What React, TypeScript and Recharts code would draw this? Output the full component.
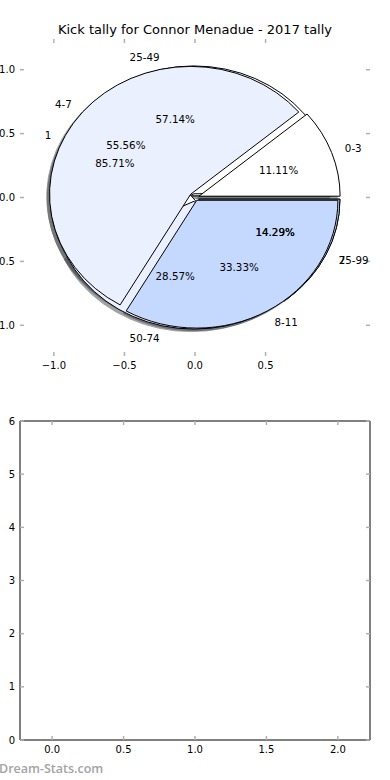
import React from 'react';
import { PieChart, Pie, Cell, ScatterChart, Scatter, XAxis, YAxis } from 'recharts';

const TITLE = 'Kick tally for Connor Menadue - 2017 tally';

// three pies stacked on the same axes, like the original
const kickCats = ['0-3', '4-7', '8-11'];
const kickValues = [1, 5, 3];
const pctCats = ['25-49', '50-74', '75-99'];
const pctValues = [4, 2, 1];
const goalCats = ['1', '2'];
const goalValues = [6, 1];

const pieXTicks = [-1, -0.5, 0, 0.5];
const pieYTicks = [-1, -0.5, 0, 0.5, 1];
const emptyXTicks = [0, 0.5, 1, 1.5, 2];
const emptyYTicks = [0, 1, 2, 3, 4, 5, 6];

const kickData = kickCats.map((name, i) => ({ name, value: kickValues[i] }));
const pctData = pctCats.map((name, i) => ({ name, value: pctValues[i] }));
const goalData = goalCats.map((name, i) => ({ name, value: goalValues[i] }));

const FONT = '"DejaVu Sans", sans-serif';
const SLICE_COLORS = ['#ffffff', '#eaf0fe', '#c5d8fd'];
const SHADOW_COLORS = ['#4d4d4d', '#46484c', '#3b414c'];
const TICK_GREY = '#b0b0b0';

const explodeA: Record<string, number> = { '0-3': 0.03, '4-7': 0.04, '8-11': 0.025 };
const explodeB: Record<string, number> = { '25-49': 0.03, '50-74': 0.03, '75-99': 0.03 };
const explodeC: Record<string, number> = { '1': 0.03, '2': 0.03 };

// top axes box (pixels) and data limits
const LIM = 1.24;
const PL = 20, PR = 370, PT = 39, PB = 356;
const R = (PR - PL) / 2 / LIM;
const K = (PB - PT) / (PR - PL); // axes aren't square, so the pie is squashed
const CX = (PL + PR) / 2;
const CY = (PT + PB) / 2;
const RAD = Math.PI / 180;

const fmt1 = (v: number) => v.toFixed(1).replace('-', '\u2212');
const fmt0 = (v: number) => String(v);

function wedgePath(cx: number, cy: number, r: number, a0: number, a1: number) {
  const x0 = cx + r * Math.cos(a0 * RAD);
  const y0 = cy - r * K * Math.sin(a0 * RAD);
  const x1 = cx + r * Math.cos(a1 * RAD);
  const y1 = cy - r * K * Math.sin(a1 * RAD);
  const large = Math.abs(a1 - a0) > 180 ? 1 : 0;
  return `M${cx},${cy}L${x0},${y0}A${r},${r * K} 0 ${large} 0 ${x1},${y1}Z`;
}

const sliceShape = (explode: Record<string, number>, shadow: boolean) => (p: any) => {
  const name = p.name ?? p.payload?.name;
  const e = explode[name] ?? 0;
  const mid = (p.startAngle + p.endAngle) / 2;
  let cx = p.cx + e * p.outerRadius * Math.cos(mid * RAD);
  let cy = p.cy - e * p.outerRadius * K * Math.sin(mid * RAD);
  if (shadow) {
    cx -= 0.02 * p.outerRadius;
    cy += 0.02 * p.outerRadius * K;
  }
  return (
    <path
      d={wedgePath(cx, cy, p.outerRadius, p.startAngle, p.endAngle)}
      fill={p.fill}
      stroke={shadow ? p.fill : '#000'}
      strokeWidth={1}
      opacity={shadow ? 0.5 : 1}
    />
  );
};

const pieLabel = (explode: Record<string, number>) => (p: any) => {
  const name = p.name ?? p.payload?.name;
  const e = explode[name] ?? 0;
  const c = Math.cos(p.midAngle * RAD);
  const s = Math.sin(p.midAngle * RAD);
  const r = p.outerRadius;
  const ox = p.cx + e * r * c;
  const oy = p.cy - e * r * K * s;
  const lx = ox + 1.1 * r * c;
  const ly = oy - 1.1 * r * K * s;
  const tx = ox + 0.6 * r * c;
  const ty = oy - 0.6 * r * K * s;
  const txt = { fontFamily: FONT, fontSize: 10.3, fill: '#000', stroke: 'none' };
  return (
    <g key={`lbl-${name}`}>
      <text x={lx} y={ly} textAnchor={lx > p.cx ? 'start' : 'end'} dominantBaseline="central" {...txt}>
        {name}
      </text>
      <text x={tx} y={ty} textAnchor="middle" dominantBaseline="central" {...txt}>
        {(p.percent * 100).toFixed(2)}%
      </text>
    </g>
  );
};

const tickText = { fontFamily: FONT, fontSize: 10, fill: '#000' };

const LeftTick = ({ x, y, payload, fmt }: any) => (
  <g>
    <line x1={x} y1={y} x2={x + 4} y2={y} stroke={TICK_GREY} strokeWidth={1.5} />
    <text x={x - 5} y={y} textAnchor="end" dominantBaseline="central" {...tickText}>
      {fmt(payload.value)}
    </text>
  </g>
);

const BottomTick = ({ x, y, payload, fmt }: any) => (
  <g>
    <line x1={x} y1={y} x2={x} y2={y - 4} stroke={TICK_GREY} strokeWidth={1.5} />
    <text x={x} y={y + 9} textAnchor="middle" dominantBaseline="central" {...tickText}>
      {fmt(payload.value)}
    </text>
  </g>
);

const TopTick = ({ x, y }: any) => (
  <line x1={x} y1={y} x2={x} y2={y + 4} stroke={TICK_GREY} strokeWidth={1.5} />
);

const RightTick = ({ x, y }: any) => (
  <line x1={x} y1={y} x2={x - 4} y2={y} stroke={TICK_GREY} strokeWidth={1.5} />
);

function Frame({
  width, height, xDomain, yDomain, xTicks, yTicks, top, bottom, xFmt, yFmt, line,
}: any) {
  const axisLine = line ? { stroke: '#000', strokeWidth: 1 } : false;
  return (
    <ScatterChart width={width} height={height} margin={{ top: 0, right: 0, bottom: 0, left: 0 }}>
      <XAxis xAxisId="b" type="number" dataKey="x" domain={xDomain} ticks={xTicks} allowDataOverflow
        interval={0} height={bottom} axisLine={axisLine} tickLine={false} tickSize={0} tickMargin={0}
        tick={(p: any) => <BottomTick {...p} fmt={xFmt} />} />
      <XAxis xAxisId="t" orientation="top" type="number" dataKey="x" domain={xDomain} ticks={xTicks} allowDataOverflow
        interval={0} height={top} axisLine={axisLine} tickLine={false} tickSize={0} tickMargin={0}
        tick={(p: any) => <TopTick {...p} />} />
      <YAxis yAxisId="l" type="number" dataKey="y" domain={yDomain} ticks={yTicks} allowDataOverflow
        interval={0} width={20} axisLine={axisLine} tickLine={false} tickSize={0} tickMargin={0}
        tick={(p: any) => <LeftTick {...p} fmt={yFmt} />} />
      <YAxis yAxisId="r" orientation="right" type="number" dataKey="y" domain={yDomain} ticks={yTicks} allowDataOverflow
        interval={0} width={20} axisLine={axisLine} tickLine={false} tickSize={0} tickMargin={0}
        tick={(p: any) => <RightTick {...p} />} />
      <Scatter xAxisId="b" yAxisId="l" data={[]} isAnimationActive={false} />
      <Scatter xAxisId="t" yAxisId="r" data={[]} isAnimationActive={false} />
    </ScatterChart>
  );
}

const pies = [
  { data: goalData, explode: explodeC },
  { data: pctData, explode: explodeB },
  { data: kickData, explode: explodeA },
];

export default function App() {
  return (
    <div style={{ position: 'absolute', left: 0, top: 0, width: 390, height: 780, background: '#fff', overflow: 'hidden' }}>
      <div style={{ position: 'absolute', left: 0, top: 0 }}>
        <Frame width={390} height={380} xDomain={[-LIM, LIM]} yDomain={[-LIM, LIM]}
          xTicks={pieXTicks} yTicks={pieYTicks} top={PT} bottom={380 - PB} xFmt={fmt1} yFmt={fmt1} line={false} />
      </div>
      <div style={{ position: 'absolute', left: 0, top: 0 }}>
        <PieChart width={390} height={380} margin={{ top: 0, right: 0, bottom: 0, left: 0 }}>
          {pies.map((pie, k) => (
            <Pie key={`sh-${k}`} data={pie.data} dataKey="value" nameKey="name" cx={CX} cy={CY}
              outerRadius={R} isAnimationActive={false} shape={sliceShape(pie.explode, true)}>
              {pie.data.map((d, i) => <Cell key={d.name} fill={SHADOW_COLORS[i]} />)}
            </Pie>
          ))}
          {pies.map((pie, k) => (
            <Pie key={`pie-${k}`} data={pie.data} dataKey="value" nameKey="name" cx={CX} cy={CY}
              outerRadius={R} isAnimationActive={false} shape={sliceShape(pie.explode, false)}>
              {pie.data.map((d, i) => <Cell key={d.name} fill={SLICE_COLORS[i]} />)}
            </Pie>
          ))}
          {pies.map((pie, k) => (
            <Pie key={`lb-${k}`} data={pie.data} dataKey="value" nameKey="name" cx={CX} cy={CY}
              outerRadius={R} isAnimationActive={false} fill="none" stroke="none"
              label={pieLabel(pie.explode)} labelLine={false} />
          ))}
        </PieChart>
      </div>
      <div style={{ position: 'absolute', left: 0, top: 22, width: 390, textAlign: 'center',
        fontFamily: FONT, fontSize: 13, lineHeight: '15px', color: '#000' }}>
        {TITLE}
      </div>
      <div style={{ position: 'absolute', left: 0, top: 380 }}>
        <Frame width={390} height={400} xDomain={[-0.225, 2.225]} yDomain={[0, 6]}
          xTicks={emptyXTicks} yTicks={emptyYTicks} top={41} bottom={40} xFmt={fmt1} yFmt={fmt0} line />
      </div>
      <div style={{ position: 'absolute', left: -1, top: 762, fontFamily: '"Open Sans", sans-serif', fontSize: 12.5,
        fontWeight: 600, lineHeight: '14px', color: '#a3a3a3', whiteSpace: 'nowrap' }}>
        Dream-Stats.com
      </div>
    </div>
  );
}
